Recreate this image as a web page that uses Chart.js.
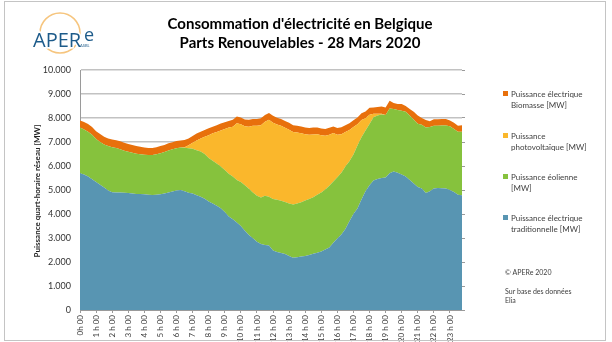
<!DOCTYPE html>
<html>
<head>
<meta charset="utf-8">
<script src="https://cdn.jsdelivr.net/npm/chart.js@4/dist/chart.umd.min.js"></script>
<style>
  html, body { margin: 0; padding: 0; background: #fff; }
  #wrap { position: relative; width: 612px; height: 342px; }
</style>
</head>
<body>
<div id="wrap"><canvas id="c" width="612" height="342"></canvas></div>
<script>
// Hour tick labels shown under the axis (one every four quarter-hours)
const hourLabels = ['0h 00','1 h 00','2 h 00','3 h 00','4 h 00','5 h 00','6 h 00','7 h 00',
  '8 h 00','9 h 00','10 h 00','11 h 00','12 h 00','13 h 00','14 h 00','15 h 00',
  '16 h 00','17 h 00','18 h 00','19 h 00','20 h 00','21 h 00','22 h 00','23 h 00'];

// Quarter-hour power values in MW, 28 March 2020
const traditionnelle = [5700,5650,5560,5450,5330,5220,5100,4980,4910,4900,
  4900,4890,4880,4850,4830,4830,4820,4800,4790,4800,
  4820,4850,4900,4940,4980,5000,4950,4890,4850,4780,
  4720,4640,4520,4440,4340,4240,4080,3900,3780,3650,
  3500,3300,3130,2990,2840,2750,2710,2690,2480,2420,
  2380,2330,2250,2180,2200,2230,2250,2290,2340,2390,
  2440,2520,2600,2800,2980,3150,3380,3700,4000,4230,
  4600,4950,5200,5400,5460,5500,5520,5700,5770,5720,
  5650,5560,5420,5270,5120,5060,4880,4950,5060,5080,
  5070,5060,5000,4920,4800,4780];

const eolienne = [1900,1870,1870,1850,1790,1780,1800,1850,1870,1850,
  1800,1750,1710,1700,1680,1660,1650,1660,1670,1690,
  1710,1730,1750,1760,1760,1770,1810,1850,1870,1880,
  1880,1860,1810,1780,1760,1740,1750,1780,1780,1770,
  1830,1900,1920,1910,1920,1940,2050,2030,2140,2170,
  2170,2170,2190,2220,2240,2260,2310,2330,2360,2410,
  2460,2500,2580,2550,2550,2570,2600,2500,2480,2620,
  2600,2530,2550,2630,2640,2650,2600,2700,2610,2610,
  2650,2700,2680,2660,2640,2660,2720,2670,2620,2600,
  2620,2630,2660,2620,2630,2650];

const photovoltaique = [0,0,0,0,0,0,0,0,0,0,
  0,0,0,0,0,0,0,0,0,0,
  0,0,0,0,0,0,20,120,250,400,
  550,720,950,1140,1320,1500,1710,1920,2080,2360,
  2410,2460,2590,2780,2920,3010,3080,3210,3180,3140,
  3130,3090,3070,3020,2960,2870,2760,2680,2610,2520,
  2380,2240,2120,2020,1770,1600,1440,1300,1140,890,
  720,510,390,150,80,30,0,0,0,0,
  0,0,0,0,0,0,0,0,0,0,
  0,0,0,0,0,0];

const biomasse = [300,310,320,320,330,330,320,320,320,320,
  330,330,330,320,320,310,300,290,290,290,
  300,300,300,290,300,290,300,290,280,290,
  280,280,290,280,280,290,280,280,290,280,
  280,280,290,280,280,290,280,280,290,280,
  280,280,290,280,280,290,280,280,290,280,
  280,280,290,280,280,290,280,280,290,280,
  280,280,290,260,280,300,320,320,240,250,
  280,240,280,330,340,280,320,240,270,270,
  270,270,240,260,250,270];

// One category per quarter-hour
const categories = [];
hourLabels.forEach((h, i) => { ['00','15','30','45'].forEach(m => categories.push(i + ':' + m)); });

const FONT = 'Lato, "Open Sans", sans-serif';
const TXT = '#404040';

const series = [
  { label: ['Puissance électrique', 'traditionnelle [MW]'], data: traditionnelle, color: '#5895B2' },
  { label: ['Puissance éolienne', '[MW]'], data: eolienne, color: '#86C23D' },
  { label: ['Puissance', 'photovoltaïque [MW]'], data: photovoltaique, color: '#FAB72C' },
  { label: ['Puissance électrique', 'Biomasse [MW]'], data: biomasse, color: '#E8700C' }
];

// Title, logo, axis title, legend, credits and frame
const decorations = {
  id: 'decorations',
  beforeDraw(chart) {
    const ctx = chart.ctx;
    ctx.save();
    ctx.fillStyle = '#fff';
    ctx.fillRect(0, 0, chart.width, chart.height);
    ctx.restore();
  },
  afterDraw(chart) {
    const ctx = chart.ctx;
    ctx.save();

    // outer frame
    ctx.strokeStyle = '#C4C4C4';
    ctx.lineWidth = 1;
    ctx.strokeRect(4.5, 1.5, 601, 339);

    // title
    ctx.fillStyle = '#000';
    ctx.font = 'bold 15px ' + FONT;
    ctx.textAlign = 'center';
    ctx.textBaseline = 'middle';
    ctx.fillText("Consommation d'électricité en Belgique", 300, 24);
    ctx.fillText('Parts Renouvelables - 28 Mars 2020', 300, 43);

    // logo
    ctx.strokeStyle = '#F6C57E';
    ctx.lineWidth = 1.5;
    ctx.beginPath();
    ctx.arc(60, 33, 20, 0, Math.PI * 2);
    ctx.stroke();
    ctx.font = '20px "Open Sans", sans-serif';
    ctx.textAlign = 'left';
    ctx.textBaseline = 'alphabetic';
    ctx.lineWidth = 3;
    ctx.strokeStyle = '#fff';
    ctx.strokeText('APER', 33, 47);
    ctx.fillStyle = '#1D5B8A';
    ctx.fillText('APER', 33, 47);
    ctx.font = '18px "Open Sans", sans-serif';
    ctx.strokeText('e', 84, 41);
    ctx.fillText('e', 84, 41);
    ctx.font = '4px ' + FONT;
    ctx.fillText('ASBL', 80, 47);

    // y axis title
    ctx.save();
    ctx.translate(37, 191);
    ctx.rotate(-Math.PI / 2);
    ctx.font = 'bold 8px ' + FONT;
    ctx.fillStyle = '#222';
    ctx.textAlign = 'center';
    ctx.textBaseline = 'middle';
    ctx.fillText('Puissance quart-horaire réseau [MW]', 0, 0);
    ctx.restore();

    // legend (top to bottom: biomass, PV, wind, traditional)
    const ys = [94, 136, 177, 218];
    const ds = chart.data.datasets;
    ctx.font = '8px ' + FONT;
    ctx.textAlign = 'left';
    ctx.textBaseline = 'middle';
    [3, 2, 1, 0].forEach((k, j) => {
      const d = ds[k];
      ctx.fillStyle = d.backgroundColor;
      ctx.fillRect(503, ys[j] - 3, 5, 5);
      ctx.fillStyle = TXT;
      d.label.forEach((line, n) => ctx.fillText(line, 511, ys[j] + n * 11.5));
    });

    // credits
    ctx.font = '7px ' + FONT;
    ctx.fillText('© APERe 2020', 505, 273);
    ctx.fillText('Sur base des données', 505, 292);
    ctx.fillText('Elia', 505, 301);

    ctx.restore();
  }
};

new Chart(document.getElementById('c'), {
  type: 'line',
  data: {
    labels: categories,
    datasets: series.map((s, i) => ({
      label: s.label,
      data: s.data,
      backgroundColor: s.color,
      borderColor: s.color,
      borderWidth: 0,
      pointRadius: 0,
      tension: 0,
      fill: i === 0 ? 'origin' : '-1'
    }))
  },
  options: {
    responsive: false,
    animation: false,
    events: [],
    layout: { padding: { left: 0, top: 70, right: 142, bottom: 0 } },
    plugins: { legend: { display: false }, title: { display: false }, tooltip: { enabled: false } },
    scales: {
      x: {
        offset: false,
        afterFit(s) { s.height = 32; },
        border: { color: '#9A9A9A', width: 1 },
        grid: {
          drawOnChartArea: false,
          tickLength: 3,
          tickColor: c => (c.index % 4 === 0 ? '#9A9A9A' : 'rgba(0,0,0,0)')
        },
        ticks: {
          autoSkip: false,
          maxRotation: 90,
          minRotation: 90,
          padding: 2,
          color: TXT,
          font: { family: FONT, size: 8 },
          callback: (v, i) => (i % 4 === 0 ? hourLabels[i / 4] : '')
        }
      },
      y: {
        stacked: true,
        min: 0,
        max: 10000,
        afterFit(s) { s.width = 80; },
        border: { color: '#9A9A9A', width: 1 },
        grid: { color: '#C2C2C2', lineWidth: 1.5, drawTicks: false },
        ticks: {
          stepSize: 1000,
          padding: 9,
          color: '#333',
          font: { family: FONT, size: 9 },
          callback: v => v.toLocaleString('de-DE')
        }
      },
      y2: {
        position: 'right',
        min: 0,
        max: 10000,
        afterFit(s) { s.width = 8; },
        border: { display: false },
        grid: { drawOnChartArea: false, tickLength: 3, color: '#9A9A9A' },
        ticks: { stepSize: 1000, display: false }
      }
    }
  },
  plugins: [decorations]
});
</script>
</body>
</html>
